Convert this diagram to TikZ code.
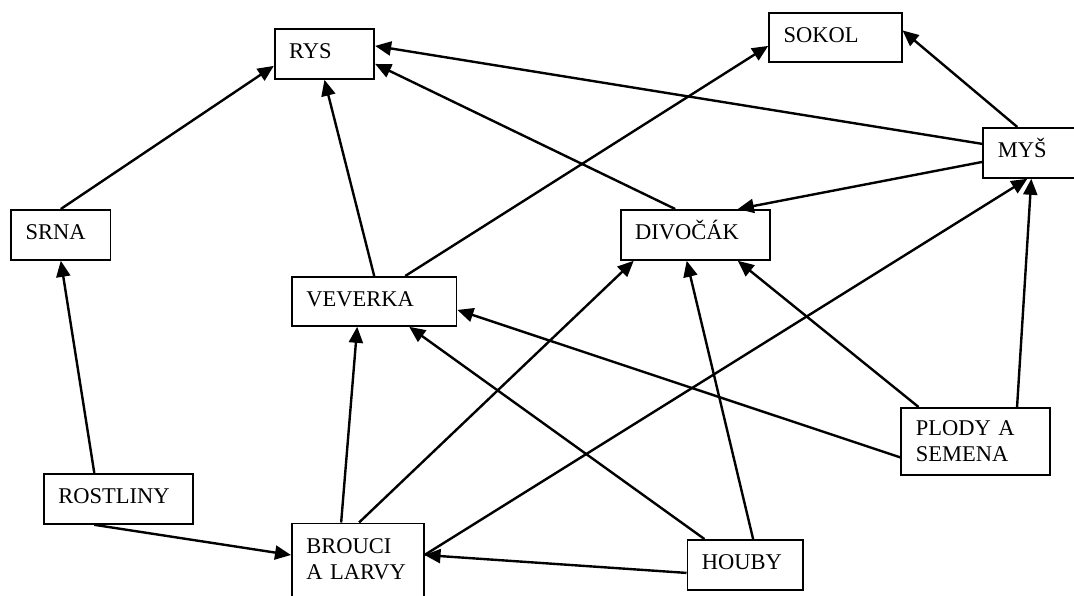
\documentclass[tikz,border=0pt]{standalone}
\usepackage{fontspec}
\setmainfont{Liberation Serif}
\usetikzlibrary{calc,arrows.meta}
\begin{document}
\begin{tikzpicture}[x=0.5pt, y=-0.5pt, font=\fontsize{11.25}{13.25}\selectfont, >={Triangle[length=8pt,width=7pt]},
    box/.style={draw, line width=0.9pt, anchor=north west, align=left, inner xsep=7.25pt, inner ysep=0pt, text height=7.5pt, text depth=2.5pt},
    twoline/.style={text height=, text depth=},
    arr/.style={->, line width=1.2pt}]
            \useasboundingbox (0,0) rectangle (1074,595); % 1 unit = 1 px of the sheet
            % animals and food
            \node[box, text width=35.25pt, minimum height=25pt] (rys) at (273.8,28) {RYS};
            \node[box, text width=51.75pt, minimum height=24.5pt] (sokol) at (768.2,12) {SOKOL};
            \node[box, text width=35.1pt, minimum height=25pt] (srna) at (10.3,209) {SRNA};
            \node[box, text width=35.5pt, minimum height=25pt] (mys) at (982.4,127) {MYŠ};
            \node[box, text width=60.1pt, minimum height=25pt] (divocak) at (619.7,209) {DIVOČÁK};
            \node[box, text width=67.8pt, minimum height=24.5pt] (veverka) at (291,276) {VEVERKA};
            \node[box, text width=59.9pt, minimum height=25pt] (rostliny) at (43,473) {ROSTLINY};
            \node[box, twoline, text width=59.75pt, minimum height=33.5pt] (plody) at (900.4,407) {PLODY A\\SEMENA};
            \node[box, text width=43.2pt, minimum height=25pt] (houby) at (686.5,539) {HOUBY};
            \node[box, twoline, text width=51.35pt, minimum height=38.5pt] (brouci) at (291,522.5) {BROUCI\\A LARVY\rule[-3pt]{0pt}{0pt}};
            % who eats whom
            \draw[arr] (srna.north) -- ($(rys.west)+(0,12)$);
            \draw[arr] (veverka.north) -- (rys.south);
            \draw[arr] ($(divocak.north)+(-20,0)$) -- ($(rys.east)+(0,10)$);
            \draw[arr] ($(mys.west)+(0,-9)$) -- ($(rys.east)+(0,-8)$);
            \draw[arr] ($(veverka.north)+(31,0)$) -- ($(sokol.west)+(0,8.5)$);
            \draw[arr] ($(mys.north)+(-16,0)$) -- ($(sokol.east)+(0,-7)$);
            \draw[arr] ($(mys.west)+(0,9)$) -- ($(divocak.north)+(42.6,0)$);
            \draw[arr] ($(rostliny.north)+(-24,0)$) -- (srna.south);
            \draw[arr] ($(rostliny.south)+(-24,0)$) -- ($(brouci.north west)+(0,32.5)$);
            \draw[arr] ($(brouci.north)+(-16.6,0)$) -- ($(veverka.south)+(-17,0)$);
            \draw[arr] ($(brouci.north)+(1.3,0)$) -- ($(divocak.south west)+(14,0)$);
            \draw[arr] ($(brouci.north east)+(0,32.5)$) -- ($(mys.south)+(-6,0)$);
            \draw[arr] ($(houby.west)+(0,8)$) -- ($(brouci.north east)+(0,32.5)$);
            \draw[arr] ($(houby.north)+(-40.7,0)$) -- ($(veverka.south)+(35,0)$);
            \draw[arr] ($(houby.north)+(8,0)$) -- ($(divocak.south)+(-8.5,0)$);
            \draw[arr] ($(plody.west)+(0,16)$) -- ($(veverka.east)+(0,8.5)$);
            \draw[arr] ($(plody.north)+(-57,0)$) -- ($(divocak.south)+(42.6,0)$);
            \draw[arr] ($(plody.north)+(41.5,0)$) -- ($(mys.south)+(-2,0)$);
    \end{tikzpicture}
\end{document}
